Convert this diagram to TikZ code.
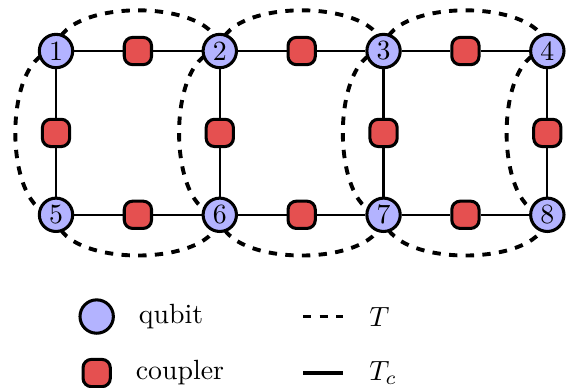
\documentclass[tikz,border=0pt]{standalone}
\usepackage{amsmath}
\usepackage{tikz}
\usetikzlibrary{positioning,backgrounds}

\definecolor{qubitblue}{RGB}{179,179,255}
\definecolor{couplerred}{RGB}{229,80,80}

\begin{document}
\begin{tikzpicture}[
    qubit/.style={
        circle,
        draw,
        line width=1.1pt,
        fill=qubitblue,
        minimum size=12pt,
        inner sep=0pt
    },
    coupler/.style={
        draw,
        line width=1.1pt,
        fill=couplerred,
        rounded corners=3pt,
        minimum size=9.8pt,
        inner sep=0pt
    },
    link/.style={thick},
    tlink/.style={dashed, line width=1.4pt, looseness=0.85},
    legline/.style={line width=1.3pt}
]

\useasboundingbox (-0.708,0.645) rectangle (6.484,-4.247);

% qubits
\node[qubit] (q1) at (0,0) {1};
\node[qubit] (q2) at (2.07,0) {2};
\node[qubit] (q3) at (4.14,0) {3};
\node[qubit] (q4) at (6.21,0) {4};
\node[qubit] (q5) at (0,-2.07) {5};
\node[qubit] (q6) at (2.07,-2.07) {6};
\node[qubit] (q7) at (4.14,-2.07) {7};
\node[qubit] (q8) at (6.21,-2.07) {8};

% couplers
\node[coupler] (c12) at (1.035,0) {};
\node[coupler] (c23) at (3.105,0) {};
\node[coupler] (c34) at (5.175,0) {};
\node[coupler] (c56) at (1.035,-2.07) {};
\node[coupler] (c67) at (3.105,-2.07) {};
\node[coupler] (c78) at (5.175,-2.07) {};
\node[coupler] (c15) at (0,-1.035) {};
\node[coupler] (c26) at (2.07,-1.035) {};
\node[coupler] (c37) at (4.14,-1.035) {};
\node[coupler] (c48) at (6.21,-1.035) {};

\draw[link] (q1) -- (c12) -- (q2) -- (c23) -- (q3) -- (c34) -- (q4);
\draw[link] (q5) -- (c56) -- (q6) -- (c67) -- (q7) -- (c78) -- (q8);
\draw[link] (q1) -- (c15) -- (q5);
\draw[link] (q2) -- (c26) -- (q6);
\draw[link] (q3) -- (c37) -- (q7);
\draw[link] (q4) -- (c48) -- (q8);

% T edges
\begin{scope}[on background layer]
\draw[tlink] (q1.center) to[out=90,in=90] (q2.center);
\draw[tlink] (q2.center) to[out=90,in=90] (q3.center);
\draw[tlink] (q3.center) to[out=90,in=90] (q4.center);
\draw[tlink] (q5.center) to[out=-90,in=-90] (q6.center);
\draw[tlink] (q6.center) to[out=-90,in=-90] (q7.center);
\draw[tlink] (q7.center) to[out=-90,in=-90] (q8.center);
\draw[tlink] (q1.center) to[out=180,in=180] (q5.center);
\draw[tlink] (q2.center) to[out=180,in=180] (q6.center);
\draw[tlink] (q3.center) to[out=180,in=180] (q7.center);
\draw[tlink] (q4.center) to[out=180,in=180] (q8.center);
\end{scope}

% legend
\node[qubit] (qleg) at (0.514,-3.356) {};
\node[coupler] (cleg) at (0.514,-4.07) {};
\node[right=0.18cm of qleg] (qlegtext) {qubit};
\node[right=0.18cm of cleg] (clegtext) {coupler};

\coordinate (tstart) at (3.122,-3.356);
\coordinate (tend) at (3.628,-3.356);
\coordinate (tcstart) at (3.122,-4.07);
\coordinate (tcend) at (3.628,-4.07);
\draw[legline, dashed] (tstart) -- (tend);
\draw[legline] (tcstart) -- (tcend);
\node[right=0.21cm of tend] (tlab) {$T$};
\node[right=0.21cm of tcend] (tclab) {$T_c$};

\end{tikzpicture}
\end{document}
